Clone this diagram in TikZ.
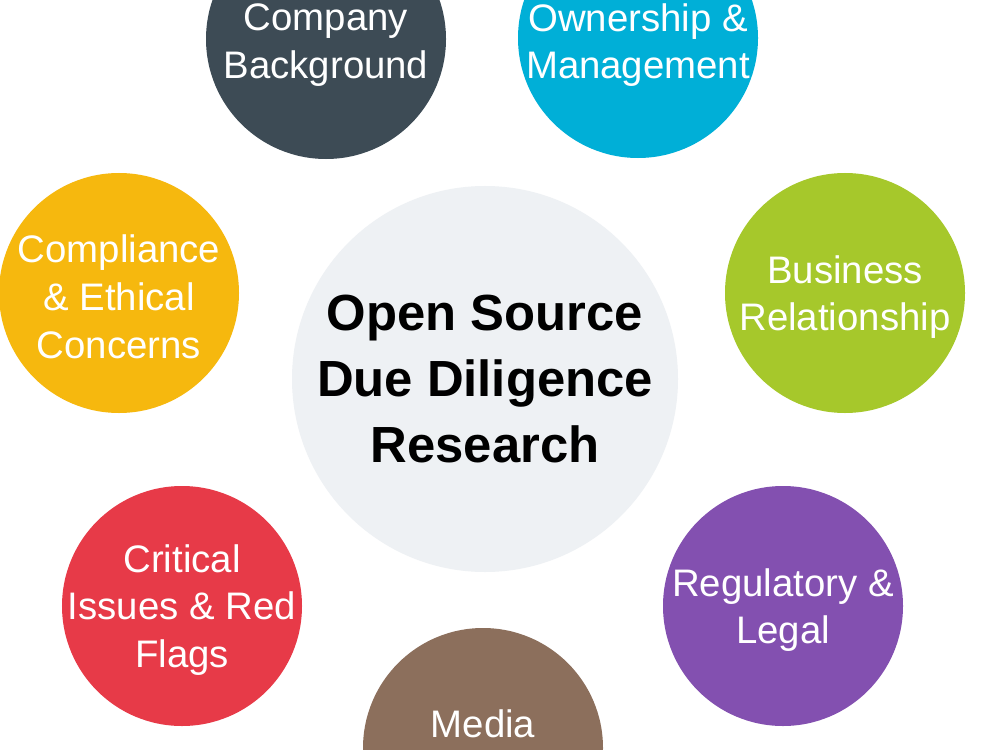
\documentclass[tikz,border=0pt]{standalone}
\usepackage{fontspec}
\setmainfont{Liberation Sans}
\definecolor{cslate}{HTML}{3D4B55}
\definecolor{ccyan}{HTML}{00AFD7}
\definecolor{cyellow}{HTML}{F6B80E}
\definecolor{cgreen}{HTML}{A6C82B}
\definecolor{cred}{HTML}{E73A48}
\definecolor{cpurple}{HTML}{8350B0}
\definecolor{cbrown}{HTML}{8C6F5C}
\definecolor{ccenter}{HTML}{EEF1F4}
\tikzset{
  bubble/.style={circle, minimum size=240bp, inner sep=0pt, draw=none},
  hub/.style={circle, minimum size=386bp, inner sep=0pt, draw=none, fill=ccenter, text=black, align=center,
    font=\fontsize{51}{66}\selectfont\bfseries},
  bubbletext/.style={inner sep=0pt, text=white, align=center, yshift=-4bp, font=\fontsize{38.5}{48}\selectfont}
}
\begin{document}
\begin{tikzpicture}[x=1bp,y=-1bp]
\useasboundingbox (0,0) rectangle (1000,750);
\fill[white] (0,0) rectangle (1000,750);
\node[hub] (hub) at (485,379) {Open Source\\Due Diligence\\Research};
\node[bubble, fill=cslate] (company) at (326,39) {};
\node[bubbletext] (companytext) at (326,41) {Company\\Background};
\node[bubble, fill=ccyan] (owner) at (638,38) {};
\node[bubbletext] (ownertext) at (638,41) {Ownership \&\\Management};
\node[bubble, fill=cyellow] (compliance) at (119,293) {};
\node[bubbletext] (compliancetext) at (compliance.center) {Compliance\\\& Ethical\\Concerns};
\node[bubble, fill=cgreen] (business) at (845,293) {};
\node[bubbletext] (businesstext) at (business.center) {Business\\Relationship};
\node[bubble, fill=cred] (critical) at (182,606) {};
\node[bubbletext] (criticaltext) at (critical.center) {Critical\\Issues \& Red\\Flags};
\node[bubble, fill=cpurple] (regulatory) at (783,606) {};
\node[bubbletext] (regulatorytext) at (regulatory.center) {Regulatory \&\\Legal};
\node[bubble, fill=cbrown] (media) at (483,748) {};
\node[bubbletext] (medialabel) at (483,720) {Media};
\end{tikzpicture}
\end{document}
